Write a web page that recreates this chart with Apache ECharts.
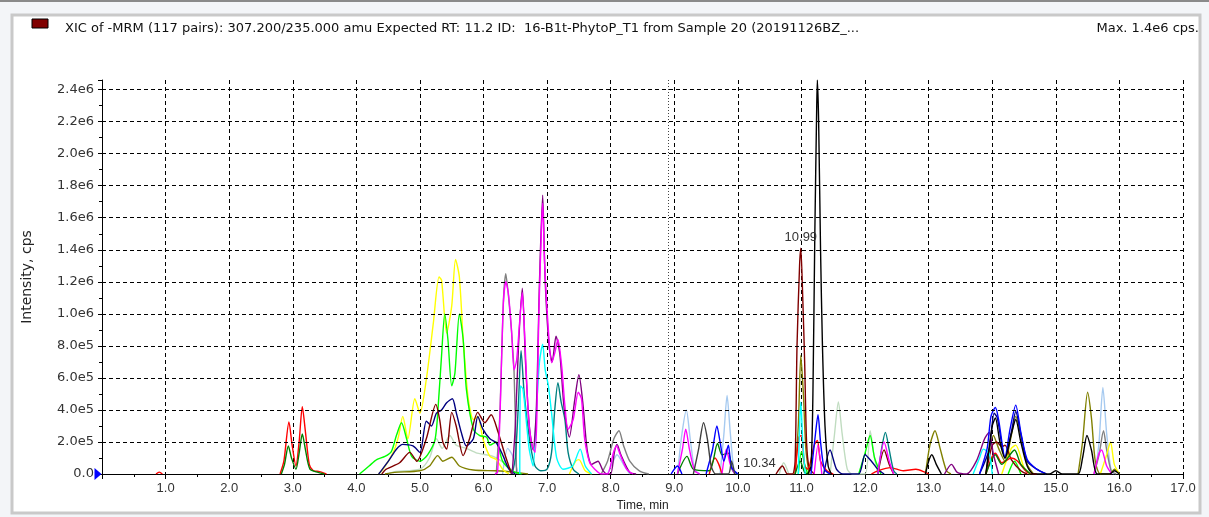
<!DOCTYPE html>
<html>
<head>
<meta charset="utf-8">
<script src="https://cdn.jsdelivr.net/npm/echarts@6/dist/echarts.min.js"></script>
<style>
html,body{margin:0;padding:0;background:#f3f5f8;}
#main{width:1209px;height:517px;}
</style>
</head>
<body>
<div id="main"></div>
<script>
// ---- tick labels ----
const xTickLabels = ['', '1.0', '2.0', '3.0', '4.0', '5.0', '6.0', '7.0', '8.0', '9.0', '10.0', '11.0', '12.0', '13.0', '14.0', '15.0', '16.0', '17.0'];
const yTickValues = [0, 2e5, 4e5, 6e5, 8e5, 1.0e6, 1.2e6, 1.4e6, 1.6e6, 1.8e6, 2.0e6, 2.2e6, 2.4e6];
const yTickLabels = ['0.0', '2.0e5', '4.0e5', '6.0e5', '8.0e5', '1.0e6', '1.2e6', '1.4e6', '1.6e6', '1.8e6', '2.0e6', '2.2e6', '2.4e6'];
const titleText = 'XIC of -MRM (117 pairs): 307.200/235.000 amu Expected RT: 11.2 ID:  16-B1t-PhytoP_T1 from Sample 20 (20191126BZ_...';
const maxText = 'Max. 1.4e6 cps.';
const markerRT = 8.9;
const peakLabels = [{ t: 10.99, v: 1.41e6, text: '10.99' }, { t: 10.34, v: 0, text: '10.34' }];

// ---- traces: [time (min), intensity (cps)] ----
const paleGreen = [[4.5,0],[4.6,1.5e4],[5.0,3e4],[5.15,1e5],[5.26,2.2e5],[5.35,1.6e5],[5.47,2.4e5],[5.57,1.8e5],[5.73,1.6e5],[5.9,1.3e5],[6.15,1.1e5],[6.35,6e4],[6.5,0],
  [10.65,0],[10.72,7e4],[10.8,0],
  [11.45,0],[11.52,2.5e5],[11.58,4.5e5],[11.64,2.5e5],[11.72,3e4],[11.8,0],
  [12.0,0],[12.08,2.7e5],[12.14,1.2e5],[12.2,0]];
const lightBlue = [[6.3,0],[6.38,1.6e5],[6.45,1.2e5],[6.55,0],
  [7.95,0],[8.05,9e4],[8.1,1.2e5],[8.2,6e4],[8.3,0],
  [9.05,0],[9.12,2.5e5],[9.19,4.0e5],[9.25,2.2e5],[9.32,3e4],[9.4,0],
  [9.72,0],[9.78,2.5e5],[9.83,4.9e5],[9.88,2.6e5],[9.94,2e4],[10.0,0],
  [15.62,0],[15.68,2e5],[15.74,5.4e5],[15.8,2.5e5],[15.87,2e4],[15.92,0]];
const gray = [[6.2,0],[6.26,4e5],[6.31,1.06e6],[6.35,1.25e6],[6.39,1.12e6],[6.44,8.9e5],[6.48,6.4e5],[6.52,0],
  [7.85,0],[7.95,8e4],[8.05,2.2e5],[8.13,2.7e5],[8.2,1.8e5],[8.3,8e4],[8.45,2e4],[8.6,0],
  [15.6,0],[15.68,1.2e5],[15.75,2.7e5],[15.8,1.5e5],[15.87,2e4],[15.95,0]];
const olive = [[4.45,0],[4.6,1e4],[5.0,2e4],[5.15,5e4],[5.28,1.15e5],[5.36,8e4],[5.5,1.05e5],[5.62,5e4],[5.84,2.5e4],[6.2,2e4],[6.5,1e4],[6.7,0],
  [10.9,0],[10.95,3e5],[10.99,7.4e5],[11.03,5e5],[11.07,1.5e5],[11.12,0],
  [12.95,0],[13.02,1.8e5],[13.1,2.7e5],[13.18,1.6e5],[13.28,2e4],[13.35,0],
  [13.9,0],[14.02,2.4e5],[14.1,1.6e5],[14.2,8e4],[14.3,2.4e5],[14.37,3.6e5],[14.45,2.4e5],[14.55,6e4],[14.65,0],
  [15.35,0],[15.42,2e5],[15.5,5.1e5],[15.56,3.5e5],[15.62,8e4],[15.7,0],
  [15.85,0],[15.92,3e4],[16.0,0]];
const yellow = [[4.35,0],[4.42,3e4],[4.58,1.35e5],[4.66,2.3e5],[4.73,3.6e5],[4.81,2.2e5],[4.92,4.7e5],[5.0,3.8e5],[5.1,5.9e5],[5.21,9.4e5],[5.3,1.23e6],[5.34,1.21e6],[5.42,8.8e5],[5.5,1.05e6],[5.56,1.34e6],[5.62,1.23e6],[5.68,8.4e5],[5.76,4.7e5],[5.84,3.4e5],[5.91,3.6e5],[5.99,2.2e5],[6.1,1.1e5],[6.2,9e4],[6.3,3e4],[6.4,0],
  [7.35,0],[7.45,8e4],[7.5,9e4],[7.6,2e4],[7.7,0],
  [14.15,0],[14.3,1.6e5],[14.37,1.8e5],[14.5,4e4],[14.6,0],
  [15.7,0],[15.8,1.2e5],[15.86,2.0e5],[15.92,6e4],[16.0,0]];
const lime = [[4.05,0],[4.2,5e4],[4.32,9e4],[4.45,1.1e5],[4.55,1.4e5],[4.63,2.4e5],[4.71,3.2e5],[4.79,2.2e5],[4.87,1.1e5],[5.0,8e4],[5.12,1.2e5],[5.24,2.2e5],[5.3,5e5],[5.34,7.4e5],[5.39,1.0e6],[5.44,8.4e5],[5.5,5.5e5],[5.55,6.3e5],[5.62,1.0e6],[5.68,8.4e5],[5.73,5.3e5],[5.84,2.8e5],[5.94,2.4e5],[6.05,2.3e5],[6.1,1.8e5],[6.2,2e5],[6.3,8e4],[6.45,2e4],[6.6,0],
  [10.95,0],[11.0,1.4e5],[11.05,6e4],[11.1,0],
  [11.9,0],[12.0,1.3e5],[12.08,2.4e5],[12.15,1e5],[12.25,0],
  [14.25,0],[14.35,8e4],[14.45,0]];
const navy = [[4.35,0],[4.39,2e4],[4.52,9e4],[4.63,1.55e5],[4.73,1.85e5],[4.89,1.75e5],[5.0,1.35e5],[5.1,3.3e5],[5.18,3.0e5],[5.26,3.8e5],[5.34,4.0e5],[5.42,4.45e5],[5.51,4.7e5],[5.57,3.85e5],[5.65,2.6e5],[5.73,1.75e5],[5.84,2.2e5],[5.91,3.6e5],[5.99,2.8e5],[6.1,2.2e5],[6.2,1.95e5],[6.3,1.2e5],[6.4,3e4],[6.5,0],
  [11.35,0],[11.45,1.5e5],[11.55,3e4],[11.65,0],
  [11.9,0],[12.0,1.2e5],[12.1,8e4],[12.2,3e4],[12.3,0],
  [13.8,0],[13.95,1.5e5],[14.03,3.8e5],[14.08,3.5e5],[14.2,1.0e5],[14.3,2.6e5],[14.37,3.9e5],[14.45,2.5e5],[14.55,8e4],[14.7,3e4],[14.85,0]];
const maroon = [[4.4,0],[4.47,3e4],[4.68,7e4],[4.84,1.35e5],[4.95,8e4],[5.1,2.2e5],[5.25,4.35e5],[5.31,3.4e5],[5.36,2.0e5],[5.42,1.55e5],[5.5,3.85e5],[5.57,3.0e5],[5.68,1.15e5],[5.78,2.2e5],[5.91,3.85e5],[6.02,3.2e5],[6.12,3.7e5],[6.23,2.6e5],[6.33,1.3e5],[6.44,0],
  [10.6,0],[10.7,5e4],[10.78,0],
  [10.86,0],[10.9,8e4],[10.93,8e5],[10.97,1.3e6],[10.99,1.41e6],[11.02,1.1e6],[11.05,7e5],[11.08,2e5],[11.12,4e4],[11.2,0],
  [12.2,0],[12.3,1.5e5],[12.38,6e4],[12.45,0],
  [13.9,0],[14.0,1.8e5],[14.07,2.0e5],[14.15,1.7e5],[14.2,1.8e5],[14.3,9e4],[14.45,2e4],[14.55,0]];
const red = [[0.85,0],[0.9,1.2e4],[0.95,0],
  [2.8,0],[2.86,8e4],[2.94,3.25e5],[2.99,1.8e5],[3.05,5e4],[3.1,2e5],[3.15,4.2e5],[3.2,2.6e5],[3.26,6e4],[3.32,2.2e4],[3.42,1.5e4],[3.53,0],
  [9.55,0],[9.64,1.0e5],[9.7,6e4],[9.75,0],
  [10.9,0],[10.96,2.3e5],[11.0,2.4e5],[11.05,5e4],[11.1,3e4],[11.2,1.8e5],[11.25,2.1e5],[11.3,8e4],[11.4,2e4],[11.5,0],
  [12.1,0],[12.2,2e4],[12.4,4e4],[12.6,2e4],[12.8,3e4],[12.95,1e4],[13.0,0],
  [13.9,0],[14.0,1.1e5],[14.05,1.3e5],[14.15,7e4],[14.3,1.0e5],[14.4,8e4],[14.55,1e4],[14.7,0]];
const darkGreen = [[2.82,0],[2.87,6e4],[2.93,1.75e5],[2.98,1e5],[3.05,3e4],[3.1,1.3e5],[3.15,2.5e5],[3.2,1.5e5],[3.27,3e4],[3.4,1e4],[3.5,0],
  [9.05,0],[9.2,1.1e5],[9.3,3e4],[9.55,2e4],[9.68,1.9e5],[9.75,1.2e5],[9.85,1.3e5],[9.92,2e4],[10.0,0],
  [10.9,0],[10.98,8e4],[11.05,1e4],[11.1,0],
  [13.9,0],[14.05,1.2e5],[14.15,6e4],[14.35,1.5e5],[14.45,6e4],[14.6,0]];
const teal = [[6.45,0],[6.5,1e5],[6.55,4.5e5],[6.59,7.7e5],[6.64,5e5],[6.73,2e5],[6.81,5e4],[6.9,2e4],[7.0,3e4],[7.07,1.35e5],[7.12,4e5],[7.17,5.7e5],[7.22,4.5e5],[7.28,3.4e5],[7.33,1.35e5],[7.41,3e4],[7.5,0],
  [12.2,0],[12.27,1.8e5],[12.32,2.6e5],[12.38,1.5e5],[12.45,2e4],[12.5,0]];
const cyan = [[6.57,0],[6.58,5.5e5],[6.62,5.3e5],[6.68,3e5],[6.72,1.5e5],[6.78,5e4],[6.83,3.8e5],[6.88,7e5],[6.93,8.1e5],[6.97,6.5e5],[7.02,5.5e5],[7.07,3.8e5],[7.15,1e5],[7.25,3e4],[7.4,5e4],[7.52,1.55e5],[7.6,5e4],[7.7,0],
  [10.95,0],[10.97,3e5],[10.99,4.5e5],[11.02,2e5],[11.06,0],
  [13.7,0],[13.8,1e5],[13.86,1.55e5],[13.95,1.3e5],[14.0,0]];
const purple = [[6.45,0],[6.5,3e5],[6.55,8e5],[6.61,1.16e6],[6.66,7e5],[6.72,3e5],[6.78,1.5e5],[6.83,4e5],[6.88,1.2e6],[6.93,1.74e6],[6.97,1.2e6],[7.03,8e5],[7.08,7e5],[7.14,8.6e5],[7.2,7.5e5],[7.27,4e5],[7.35,2.3e5],[7.43,4.5e5],[7.5,6.2e5],[7.56,4.5e5],[7.63,1.5e5],[7.7,6e4],[7.8,8e4],[7.88,2e4],[7.95,0],
  [8.0,0],[8.06,1.4e5],[8.1,1.85e5],[8.16,1.2e5],[8.3,1e4],[8.4,0],
  [13.25,0],[13.36,6e4],[13.45,1e4],[13.6,0],[13.75,8e4],[13.88,2.2e5],[13.95,2.6e5],[14.02,1.2e5],[14.1,0]];
const magenta = [[6.18,0],[6.22,1e4],[6.26,3.8e5],[6.31,1.05e6],[6.35,1.2e6],[6.39,1.13e6],[6.44,9e5],[6.48,6.5e5],[6.52,7.1e5],[6.57,9.6e5],[6.61,1.13e6],[6.65,8.4e5],[6.7,4e5],[6.75,2e5],[6.81,1.35e5],[6.84,3.8e5],[6.87,1e6],[6.91,1.52e6],[6.93,1.69e6],[6.96,1.32e6],[7.02,9e5],[7.07,6.95e5],[7.12,7.55e5],[7.17,8.4e5],[7.23,6.7e5],[7.28,4.25e5],[7.33,2.8e5],[7.41,3.4e5],[7.49,5.1e5],[7.54,4.7e5],[7.59,2.2e5],[7.67,7e4],[7.75,3e4],[7.85,0],
  [7.95,0],[8.04,1.3e5],[8.09,1.75e5],[8.15,1.2e5],[8.25,3e4],[8.35,0],
  [9.05,0],[9.13,1.6e5],[9.18,2.8e5],[9.24,1.5e5],[9.32,2e4],[9.4,0],
  [9.75,0],[9.82,1.55e5],[9.88,6e4],[9.95,0],
  [11.2,0],[11.26,1.8e5],[11.32,0],
  [12.2,0],[12.3,2e5],[12.38,8e4],[12.45,0],
  [15.6,0],[15.68,1.3e5],[15.72,1.5e5],[15.8,5e4],[15.88,0]];
const blue = [[8.95,0],[9.05,5e4],[9.12,0],
  [9.5,0],[9.6,1.5e5],[9.67,3.0e5],[9.72,2e5],[9.78,8e4],[9.85,1.8e5],[9.9,4e4],[10.0,0],
  [11.15,0],[11.22,2.5e5],[11.26,3.7e5],[11.3,2.0e5],[11.36,3e4],[11.45,0],
  [13.8,0],[13.92,1.6e5],[13.98,3.6e5],[14.05,4.15e5],[14.1,3.4e5],[14.2,1.05e5],[14.28,2.8e5],[14.37,4.3e5],[14.45,2.6e5],[14.55,9e4],[14.7,3e4],[14.85,0]];
const darkGray = [[9.3,0],[9.38,1.5e5],[9.46,3.2e5],[9.52,2.2e5],[9.58,5e4],[9.65,0],
  [9.85,0],[9.9,8e4],[9.95,0]];
const black = [[11.1,0],[11.15,5e4],[11.18,5e5],[11.21,1.5e6],[11.24,2.3e6],[11.25,2.46e6],[11.27,2.2e6],[11.3,1.4e6],[11.33,8e5],[11.37,3e5],[11.42,5e4],[11.47,0],
  [12.95,0],[13.0,8e4],[13.05,1.2e5],[13.12,6e4],[13.2,0],
  [13.9,0],[14.0,3e5],[14.05,3.5e5],[14.12,2e5],[14.2,1e5],[14.3,2.5e5],[14.37,3.4e5],[14.45,2e5],[14.55,5e4],[14.65,0],
  [14.9,0],[15.0,2e4],[15.1,0],
  [15.35,0],[15.42,1e5],[15.49,2.4e5],[15.56,1.5e5],[15.65,0],
  [15.85,0],[15.92,2e4],[16.0,0]];

const traces = [
  ['paleGreen', paleGreen, '#c0dcc0'],
  ['lightBlue', lightBlue, '#a6caf0'],
  ['gray', gray, '#808080'],
  ['olive', olive, '#808000'],
  ['yellow', yellow, '#ffff00'],
  ['lime', lime, '#00ff00'],
  ['navy', navy, '#000080'],
  ['maroon', maroon, '#800000'],
  ['red', red, '#ff0000'],
  ['darkGreen', darkGreen, '#008000'],
  ['teal', teal, '#008080'],
  ['cyan', cyan, '#00ffff'],
  ['purple', purple, '#800080'],
  ['magenta', magenta, '#ff00ff'],
  ['blue', blue, '#0000ff'],
  ['darkGray', darkGray, '#404040'],
  ['black', black, '#000000']
];

// break a trace where it rests on the baseline for a long stretch
function withGaps(pts) {
  const out = [];
  for (let i = 0; i < pts.length; i++) {
    if (i > 0 && pts[i - 1][1] === 0 && pts[i][1] === 0 && pts[i][0] - pts[i - 1][0] > 0.3) {
      out.push([(pts[i - 1][0] + pts[i][0]) / 2, null]);
    }
    out.push(pts[i]);
  }
  return out;
}

const FONT = 'Liberation Sans';
const DV = 'DejaVu Sans';
const chart = echarts.init(document.getElementById('main'), null, { renderer: 'canvas' });

const series = [{
  name: 'grid', type: 'line', data: [], z: 1, silent: true,
  markLine: {
    silent: true, symbol: ['none', 'none'], animation: false,
    label: { show: false },
    lineStyle: { color: '#000', type: [4, 3], width: 1 },
    data: yTickValues.slice(1).map(v => ({ yAxis: v }))
  }
}, {
  name: 'rt', type: 'line', data: [], z: 1, silent: true,
  markLine: {
    silent: true, symbol: ['none', 'none'], animation: false,
    label: { show: false },
    lineStyle: { color: '#444', type: [1, 2], width: 1 },
    data: [{ xAxis: markerRT }]
  }
}];

traces.forEach(([name, data, color]) => {
  const s = {
    name, type: 'line', data: withGaps(data), connectNulls: false, showSymbol: false, symbol: 'none',
    smooth: 0.25, z: 3,
    lineStyle: { color, width: 1.4 }, itemStyle: { color },
    animation: false
  };
  if (name === 'maroon') {
    s.markPoint = {
      symbol: 'circle', symbolSize: 1, itemStyle: { color: 'rgba(0,0,0,0)' },
      label: { show: true, position: 'top', distance: 4, color: '#333', fontFamily: FONT, fontSize: 13, formatter: p => p.name },
      data: [{ name: peakLabels[0].text, coord: [peakLabels[0].t, peakLabels[0].v] }]
    };
  }
  if (name === 'darkGray') {
    s.markPoint = {
      symbol: 'circle', symbolSize: 1, itemStyle: { color: 'rgba(0,0,0,0)' },
      label: { show: true, position: 'top', distance: 4, color: '#333', fontFamily: FONT, fontSize: 13, formatter: p => p.name },
      data: [{ name: peakLabels[1].text, coord: [peakLabels[1].t, peakLabels[1].v] }]
    };
  }
  if (name === 'black') {
    s.markPoint = {
      symbol: 'triangle', symbolSize: [12, 7], symbolRotate: -90, symbolOffset: [-4, 0],
      itemStyle: { color: '#0000ff' }, label: { show: false },
      data: [{ coord: [0, 0] }]
    };
  }
  series.push(s);
});

const option = {
  backgroundColor: '#f3f5f8',
  animation: false,
  textStyle: { fontFamily: FONT },
  grid: { left: 102, right: 26, top: 80, bottom: 42 },
  graphic: [
    { type: 'rect', z: -10, shape: { x: 0, y: 0, width: 1209, height: 2 }, style: { fill: '#8a8a8a' } },
    { type: 'rect', z: -10, shape: { x: 12, y: 15, width: 1188, height: 498 }, style: { fill: '#ffffff', stroke: '#c9c9c9', lineWidth: 3 } },
    { type: 'rect', z: 10, shape: { x: 32, y: 19, width: 16, height: 9 }, style: { fill: '#800000', stroke: '#000', lineWidth: 1 } },
    { type: 'text', z: 10, x: 65, y: 29, style: { text: titleText, fill: '#111', font: '13px "' + DV + '"', textVerticalAlign: 'middle' } },
    { type: 'text', z: 10, x: 1199, y: 29, style: { text: maxText, fill: '#111', font: '13px "' + DV + '"', textAlign: 'right', textVerticalAlign: 'middle' } }
  ],
  xAxis: {
    type: 'value', min: 0, max: 17, interval: 1,
    name: 'Time, min', nameLocation: 'middle', nameGap: 26,
    nameTextStyle: { color: '#222', fontSize: 12, fontFamily: FONT },
    axisLine: { show: true, onZero: false, lineStyle: { color: '#000', width: 1 } },
    axisTick: { show: true, length: 5, lineStyle: { color: '#000' } },
    minorTick: { show: true, splitNumber: 2, length: 3, lineStyle: { color: '#000' } },
    axisLabel: { color: '#333', fontSize: 13, fontFamily: FONT, margin: 8,
      formatter: v => { const i = Math.round(v); return Math.abs(v - i) < 1e-6 ? xTickLabels[i] : ''; } },
    splitLine: { show: true, lineStyle: { color: '#000', type: [4, 3], width: 1 } }
  },
  yAxis: {
    type: 'value', min: 0, max: 2.46e6, interval: 2e5,
    name: 'Intensity, cps', nameLocation: 'middle', nameGap: 68,
    nameTextStyle: { color: '#222', fontSize: 14, fontFamily: DV },
    axisLine: { show: true, lineStyle: { color: '#000', width: 1 } },
    axisTick: { show: true, length: 4, lineStyle: { color: '#000' } },
    minorTick: { show: true, splitNumber: 2, length: 3, lineStyle: { color: '#000' } },
    axisLabel: { color: '#333', fontSize: 13, fontFamily: DV, margin: 8,
      formatter: v => { const i = yTickValues.findIndex(t => Math.abs(t - v) < 1); return i >= 0 ? yTickLabels[i] : ''; } },
    splitLine: { show: false }
  },
  series
};
chart.setOption(option);
</script>
</body>
</html>
